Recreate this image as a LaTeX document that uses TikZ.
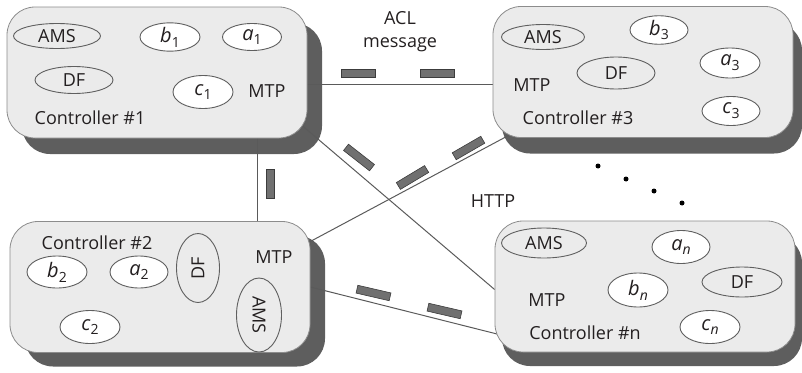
\documentclass[tikz,border=0pt]{standalone}
\usepackage{fontspec}
\setmainfont{Open Sans}
\usetikzlibrary{shapes.geometric,calc}
\pgfdeclarelayer{shadowlayer}
\pgfdeclarelayer{linelayer}
\pgfsetlayers{shadowlayer,linelayer,main}
\definecolor{boxgray}{HTML}{EBEBEB}
\definecolor{bordergray}{HTML}{8C8C8C}
\definecolor{shadowgray}{HTML}{5E5E5E}
\definecolor{ellgray}{HTML}{5F5F5F}
\definecolor{linegray}{HTML}{5A5A5A}
\definecolor{dashfill}{HTML}{707070}
\definecolor{dashdraw}{HTML}{3C3C3C}
\definecolor{textc}{HTML}{231F20}
\newcommand\mainsize{\fontsize{18}{22}\selectfont}
\newcommand\lblsize{\fontsize{20}{22}\selectfont}
\newcommand\agl[2]{\textit{#1}\raisebox{-0.45ex}{\fontsize{14}{14}\selectfont #2}}
\begin{document}
\begin{tikzpicture}[x=1pt,y=-1pt,
  box/.style={rectangle, rounded corners=28pt, fill=boxgray, draw=bordergray, line width=0.8pt, minimum width=300pt, minimum height=131pt, inner sep=0pt},
  shadowbox/.style={rectangle, rounded corners=28pt, fill=shadowgray, minimum width=300pt, minimum height=131pt, inner sep=0pt},
  agent/.style={ellipse, draw=ellgray, fill=white, line width=0.9pt, inner sep=0pt, font=\lblsize, text=textc},
  service/.style={ellipse, draw=ellgray, fill=boxgray, line width=0.9pt, inner sep=0pt, font=\mainsize, text=textc},
  txt/.style={inner sep=0pt, font=\mainsize, text=textc},
  conn/.style={draw=linegray, line width=1pt},
  acl/.style={rectangle, fill=dashfill, draw=dashdraw, line width=0.6pt, minimum width=34pt, minimum height=8pt, inner sep=0pt},
  dotn/.style={circle, fill=black, inner sep=0pt, minimum size=5pt}
]
\useasboundingbox (0,0) rectangle (802,372);

% controller boxes
\node[box] (c1) at (157,72.5) {};
\node[box] (c3) at (643,72) {};
\node[box] (c2) at (160,287) {};
\node[box] (cn) at (645,286.5) {};

% shadows
\begin{pgfonlayer}{shadowlayer}
\node[shadowbox] (s1) at ($(c1.center)+(15,16)$) {};
\node[shadowbox] (s3) at ($(c3.center)+(9,16)$) {};
\node[shadowbox] (s2) at ($(c2.center)+(15,14)$) {};
\node[shadowbox] (sn) at ($(cn.center)+(7,14)$) {};
\end{pgfonlayer}

% connectors
\begin{pgfonlayer}{linelayer}
\draw[conn] ($(c1.east)+(0,11.5)$) -- ($(c3.west)+(0,12)$);
\coordinate (v1) at ($(c1.south)+(100,0)$);
\draw[conn] (v1) -- (v1 |- c2.north);
\draw[conn] ($(c1.center)+(138,47)$) -- ($(cn.west)+(0,3)$);
\draw[conn] ($(c2.center)+(140,-40)$) -- ($(c3.center)+(-128,60)$);
\draw[conn] (c2.east) -- ($(cn.center)+(-140,49.5)$);
\end{pgfonlayer}

% ACL message dashes
\node[acl] (d1) at (358.5,73) {};
\node[acl] (d2) at (437.5,73) {};
\node[acl, minimum width=29pt, rotate=90] (d3) at (270,184) {};
\node[acl, minimum width=33pt, rotate=-38] (d4) at (359,157.5) {};
\node[acl, minimum width=33pt, rotate=31] (d5) at (412.5,177.5) {};
\node[acl, minimum width=33pt, rotate=30] (d6) at (468.5,148) {};
\node[acl, minimum width=34pt, rotate=-13] (d7) at (373.5,293) {};
\node[acl, minimum width=34pt, rotate=-13] (d8) at (444.5,311) {};

% free labels
\node[txt, align=center] (acltxt) at (400,32) {ACL\\[1pt]message};
\node[txt] (http) at (493,201) {HTTP};
\node[dotn] (dot1) at (598,166) {};
\node[dotn] (dot2) at (626,179) {};
\node[dotn] (dot3) at (654,191) {};
\node[dotn] (dot4) at (682,203) {};

% Controller #1
\node[service, minimum width=87pt, minimum height=25pt] (ams1) at (57,36) {AMS};
\node[service, minimum width=78pt, minimum height=27pt] (df1) at (74,80) {DF};
\node[agent, minimum width=60pt, minimum height=27pt] (b1) at (170,37) {\agl{b}{1}};
\node[agent, minimum width=59pt, minimum height=27pt] (a1) at (252,37) {\agl{a}{1}};
\node[agent, minimum width=60pt, minimum height=33pt] (cc1) at (203,92) {\agl{c}{1}};
\node[txt] (mtp1) at (267,91) {MTP};
\node[txt] (lab1) at (90,118) {Controller \#1};

% Controller #3
\node[service, minimum width=83pt, minimum height=25pt] (ams3) at (543,37) {AMS};
\node[agent, minimum width=58pt, minimum height=28pt] (b3) at (659,30) {\agl{b}{3}};
\node[agent, minimum width=60pt, minimum height=30pt] (a3) at (730,63) {\agl{a}{3}};
\node[service, minimum width=78pt, minimum height=32pt] (df3) at (616,73) {DF};
\node[txt] (mtp3) at (532,85) {MTP};
\node[agent, minimum width=58pt, minimum height=29pt] (cc3) at (731,111) {\agl{c}{3}};
\node[txt] (lab3) at (578,118) {Controller \#3};

% Controller #2
\node[txt] (lab2) at (97,243) {Controller \#2};
\node[agent, minimum width=60pt, minimum height=32pt] (b2) at (57,272) {\agl{b}{2}};
\node[agent, minimum width=58pt, minimum height=32pt] (a2) at (139,272) {\agl{a}{2}};
\node[service, minimum width=69pt, minimum height=43pt, rotate=90] (df2) at (198,268) {DF};
\node[txt] (mtp2) at (274,257) {MTP};
\node[service, minimum width=74pt, minimum height=45pt, rotate=-90] (ams2) at (259,315) {AMS};
\node[agent, minimum width=60pt, minimum height=33pt] (cc2) at (90,327) {\agl{c}{2}};

% Controller #n
\node[service, minimum width=85pt, minimum height=30pt] (amsn) at (544,243) {AMS};
\node[agent, minimum width=58pt, minimum height=33pt] (an) at (681,247) {\agl{a}{\textit{n}}};
\node[agent, minimum width=60pt, minimum height=34pt] (bn) at (638,290) {\agl{b}{\textit{n}}};
\node[service, minimum width=80pt, minimum height=30pt] (dfn) at (742,282) {DF};
\node[txt] (mtpn) at (547,300) {MTP};
\node[agent, minimum width=60pt, minimum height=33pt] (ccn) at (710,327) {\agl{c}{\textit{n}}};
\node[txt] (labn) at (585,333) {Controller \#n};
\end{tikzpicture}
\end{document}
